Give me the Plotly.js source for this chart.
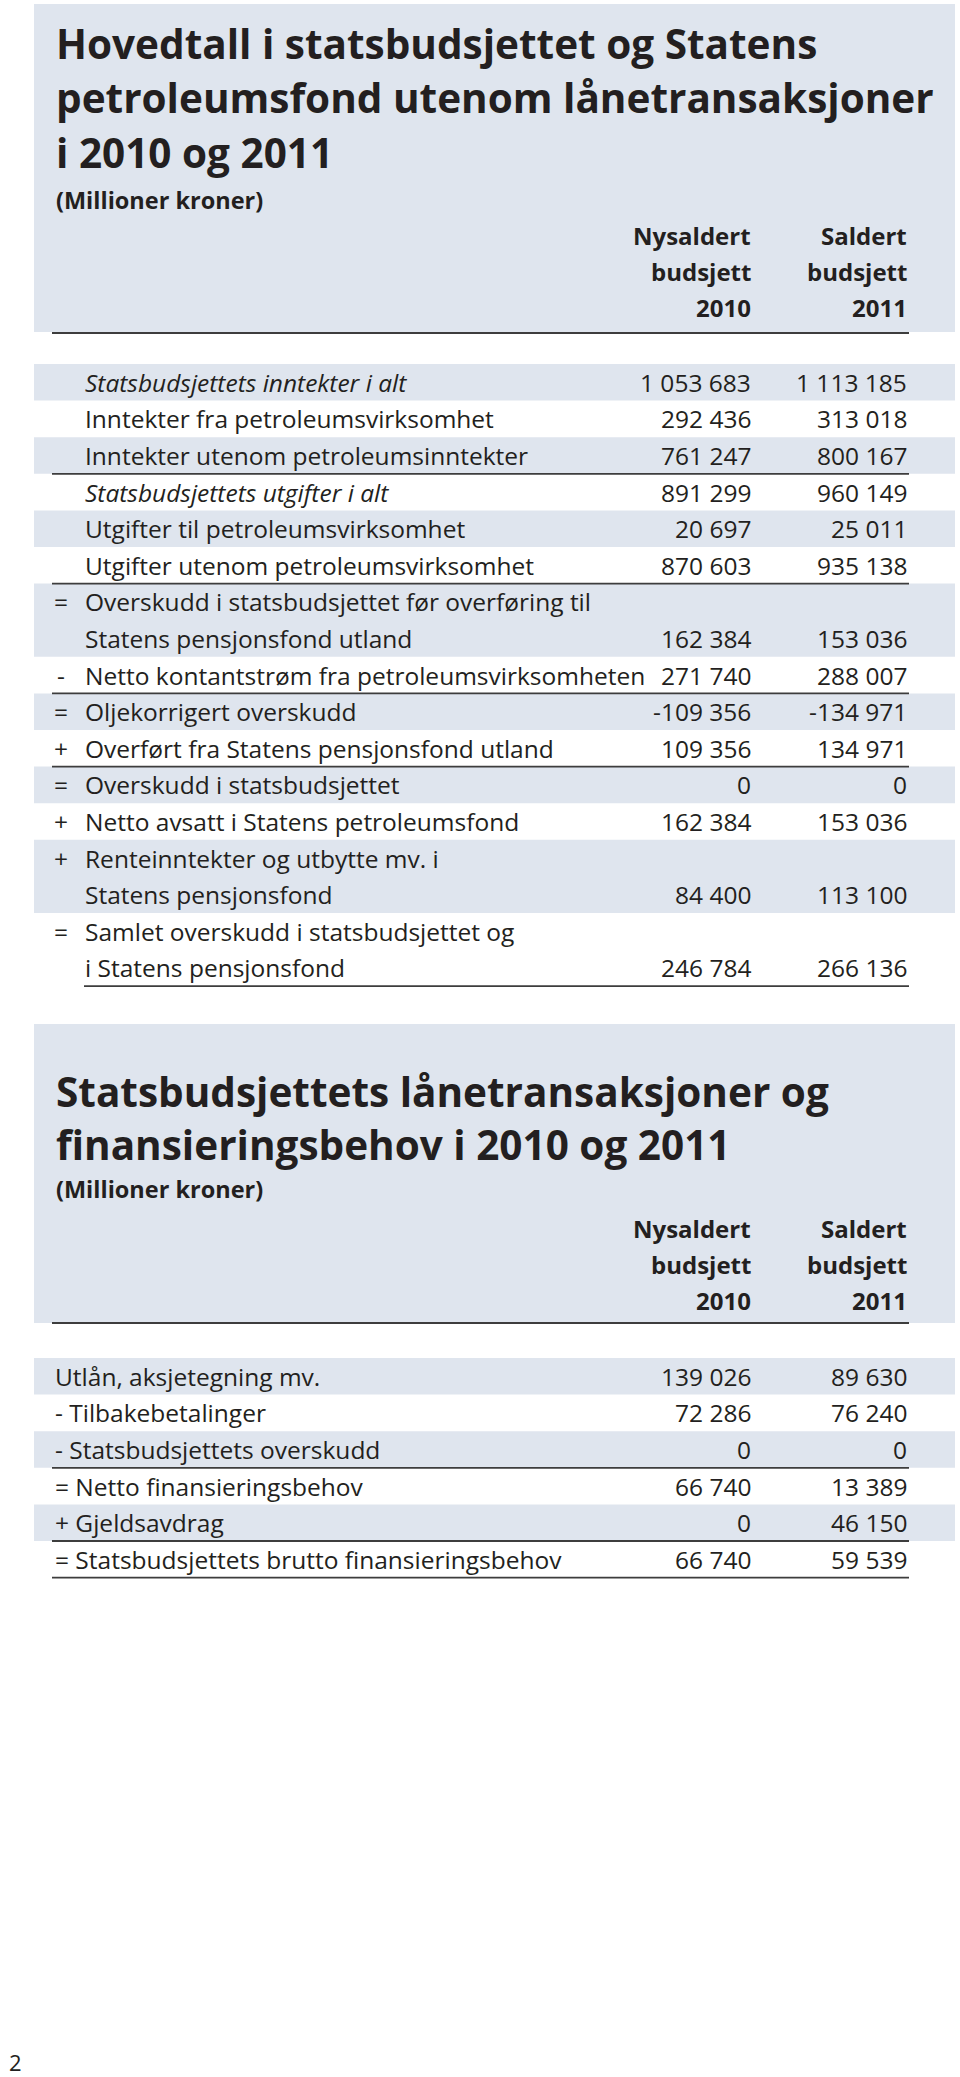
<!DOCTYPE html>
<html>
<head>
<meta charset="utf-8">
<script src="https://cdn.plot.ly/plotly-3.0.1.min.js"></script>
<style>html,body{margin:0;padding:0;background:#fff;}#chart{width:960px;height:2077px;}</style>
</head>
<body>
<div id="chart"></div>
<script>
// ---------- DATA ----------
const title1Lines = ["Hovedtall i statsbudsjettet og Statens", "petroleumsfond utenom lånetransaksjoner", "i 2010 og 2011"];
const title2Lines = ["Statsbudsjettets lånetransaksjoner og", "finansieringsbehov i 2010 og 2011"];
const unitLabel = "(Millioner kroner)";
const colHeader2010 = ["Nysaldert", "budsjett", "2010"];
const colHeader2011 = ["Saldert", "budsjett", "2011"];

const t1Prefix = ["", "", "", "", "", "", "=", "-", "=", "+", "=", "+", "+", "="];
const t1Labels = [
  "Statsbudsjettets inntekter i alt",
  "Inntekter fra petroleumsvirksomhet",
  "Inntekter utenom petroleumsinntekter",
  "Statsbudsjettets utgifter i alt",
  "Utgifter til petroleumsvirksomhet",
  "Utgifter utenom petroleumsvirksomhet",
  "Overskudd i statsbudsjettet før overføring til|Statens pensjonsfond utland",
  "Netto kontantstrøm fra petroleumsvirksomheten",
  "Oljekorrigert overskudd",
  "Overført fra Statens pensjonsfond utland",
  "Overskudd i statsbudsjettet",
  "Netto avsatt i Statens petroleumsfond",
  "Renteinntekter og utbytte mv. i|Statens pensjonsfond",
  "Samlet overskudd i statsbudsjettet og|i Statens pensjonsfond"
];
const t1Values2010 = [1053683, 292436, 761247, 891299, 20697, 870603, 162384, 271740, -109356, 109356, 0, 162384, 84400, 246784];
const t1Values2011 = [1113185, 313018, 800167, 960149, 25011, 935138, 153036, 288007, -134971, 134971, 0, 153036, 113100, 266136];

const t2Labels = [
  "Utlån, aksjetegning mv.",
  "- Tilbakebetalinger",
  "- Statsbudsjettets overskudd",
  "= Netto finansieringsbehov",
  "+ Gjeldsavdrag",
  "= Statsbudsjettets brutto finansieringsbehov"
];
const t2Values2010 = [139026, 72286, 0, 66740, 0, 66740];
const t2Values2011 = [89630, 76240, 0, 13389, 46150, 59539];
const pageNumber = "2";

// ---------- STYLE / LAYOUT CONSTANTS ----------
const FONT = "Open Sans, Noto Sans, sans-serif";
const INK = "#231f20";
const BAND = "#dfe5ee";
const RULE = "#3d3d3d";
const t1Italic = new Set([0, 3]);
const t1RulesAfter = [2, 5, 7, 9];
const t2RulesAfter = [2, 4, 5];
const PITCH = 36.6;
const DATA_FS = 24.5;
const T_FS = 40.5;
const H_FS = 24;
const U_FS = 23.5;
const COL1_X = 752, COL2_X = 908;
const BAND_X0 = 34, BAND_X1 = 955;
const RULE_X0 = 52, RULE_X1 = 909;

function fmt(v) {
  const s = Math.abs(v).toString().replace(/\B(?=(\d{3})+(?!\d))/g, " ");
  return (v < 0 ? "-" : "") + s;
}
function mid(baseline, fs) { return baseline - 0.388 * fs; }

const shapes = [];
const ann = [];
function text(x, y, t, fs, anchor, bold) {
  ann.push({
    xref: "x", yref: "y", x: x, y: y, text: bold ? "<b>" + t + "</b>" : t,
    showarrow: false, xanchor: anchor, yanchor: "middle", align: anchor === "right" ? "right" : "left",
    borderpad: 0, font: {family: FONT, size: fs, color: INK}
  });
}
function rect(y0, y1) {
  shapes.push({type: "rect", xref: "x", yref: "y", x0: BAND_X0, x1: BAND_X1, y0: y0, y1: y1,
    fillcolor: BAND, line: {width: 0}, layer: "below"});
}
function rule(x0, y) {
  shapes.push({type: "line", xref: "x", yref: "y", x0: x0, x1: RULE_X1, y0: y, y1: y,
    line: {color: RULE, width: 1.8}});
}

// ---------- SECTION 1 HEADER ----------
rect(4, 332);
[59, 113, 168].forEach((b, i) => text(55, mid(b, T_FS), title1Lines[i], T_FS, "left", true));
text(55, mid(209, U_FS), unitLabel, U_FS, "left", true);
[245, 281, 317].forEach((b, i) => {
  text(COL1_X, mid(b, H_FS), colHeader2010[i], H_FS, "right", true);
  text(COL2_X, mid(b, H_FS), colHeader2011[i], H_FS, "right", true);
});
rule(RULE_X0, 333);

// ---------- SECTION 1 TABLE ----------
let cursorY = 364;
t1Labels.forEach((lab, i) => {
  const lines = lab.split("|");
  const h = lines.length * PITCH;
  if (i % 2 === 0) rect(cursorY, cursorY + h);
  lines.forEach((ln, k) => {
    const y = cursorY + k * PITCH + PITCH / 2;
    const t = t1Italic.has(i) ? "<i>" + ln + "</i>" : ln;
    text(84, y, t, DATA_FS, "left", false);
  });
  if (t1Prefix[i]) text(60.5, cursorY + PITCH / 2, t1Prefix[i], DATA_FS, "center", false);
  const yv = cursorY + (lines.length - 1) * PITCH + PITCH / 2;
  text(COL1_X, yv, fmt(t1Values2010[i]), DATA_FS, "right", false);
  text(COL2_X, yv, fmt(t1Values2011[i]), DATA_FS, "right", false);
  cursorY += h;
  if (t1RulesAfter.includes(i)) rule(RULE_X0, cursorY);
  if (i === t1Labels.length - 1) rule(84, cursorY);
});

// ---------- SECTION 2 HEADER ----------
rect(1024, 1323);
text(55, (mid(1110, T_FS) + mid(1157, T_FS)) / 2, title2Lines.join("<br>"), T_FS, "left", true);
text(55, mid(1198, U_FS), unitLabel, U_FS, "left", true);
[1238, 1274, 1310].forEach((b, i) => {
  text(COL1_X, mid(b, H_FS), colHeader2010[i], H_FS, "right", true);
  text(COL2_X, mid(b, H_FS), colHeader2011[i], H_FS, "right", true);
});
rule(RULE_X0, 1323);

// ---------- SECTION 2 TABLE ----------
cursorY = 1358;
t2Labels.forEach((lab, i) => {
  if (i % 2 === 0) rect(cursorY, cursorY + PITCH);
  const y = cursorY + PITCH / 2;
  text(54, y, lab, DATA_FS, "left", false);
  text(COL1_X, y, fmt(t2Values2010[i]), DATA_FS, "right", false);
  text(COL2_X, y, fmt(t2Values2011[i]), DATA_FS, "right", false);
  cursorY += PITCH;
  if (t2RulesAfter.includes(i)) rule(RULE_X0, cursorY);
});

// page number
text(8, mid(2071, 22), pageNumber, 22, "left", false);

const layout = {
  width: 960, height: 2077,
  margin: {l: 0, r: 0, t: 0, b: 0, pad: 0},
  paper_bgcolor: "#ffffff", plot_bgcolor: "#ffffff",
  showlegend: false,
  xaxis: {range: [0, 960], visible: false, fixedrange: true},
  yaxis: {range: [2077, 0], visible: false, fixedrange: true},
  shapes: shapes, annotations: ann
};
Plotly.newPlot("chart", [{type: "scatter", x: [], y: [], mode: "markers", hoverinfo: "skip"}], layout,
  {displayModeBar: false, staticPlot: true});
</script>
</body>
</html>
